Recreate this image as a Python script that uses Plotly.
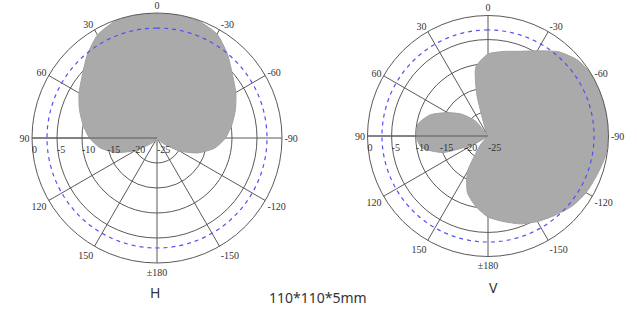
import plotly.graph_objects as go

# ---- data ----
h_theta = [0, 10, 20, 30, 40, 50, 60, 70, 80, 90, 100, 110, 120, 130, 140, 150, 160, 170, 180,
           -170, -160, -150, -140, -130, -120, -110, -100, -90, -80, -70, -60, -50, -40, -30, -20, -10, 0]
h_db = [-0.2, 0, -0.2, -1.2, -3.3, -5.5, -7.0, -8.5, -10.0, -11.5, -13.5, -16.5, -20.0, -23.0, -24.0, -24.5, -24.5, -24.0, -23.5,
        -24.2, -24.5, -24.5, -24.2, -23.0, -19.8, -16.3, -13.3, -11.3, -9.8, -8.3, -6.8, -5.3, -3.1, -1.0, -0.2, 0, -0.2]

v_theta = [0, 10, 15, 20, 30, 40, 50, 60, 70, 80, 90, 100, 110, 120, 130, 140, 150, 160, 170, 180,
           -170, -160, -150, -140, -130, -120, -110, -100, -90, -80, -70, -60, -50, -40, -30, -20, -10, 0]
v_db = [-8.0, -10.5, -16.0, -23.0, -24.5, -21.0, -18.0, -15.3, -12.2, -10.3, -10.1, -11.0, -15.0, -21.5, -24.5, -22.5, -16.5, -12.5, -10.2, -8.2,
        -7.0, -5.6, -4.5, -3.5, -2.3, -1.5, -1.0, -0.3, 0, -0.1, 0, 0, -0.6, -2.2, -4.6, -6.3, -7.2, -8.0]

ref_level = -3
ref_theta = list(range(0, 361, 2))

angle_ticks = [0, 30, 60, 90, 120, 150, 180, 210, 240, 270, 300, 330]
angle_text = ["0", "30", "60", "90", "120", "150", "±180", "-150", "-120", "-90", "-60", "-30"]
radial_ticks = [-25, -20, -15, -10, -5, 0]
radial_text = ["-25", "-20", "-15", "-10", "-5", "0"]

panel_titles = ["H", "V"]
subtitle = "110*110*5mm"

FILL = "rgb(170,170,170)"
GRID = "rgb(90,90,90)"
SERIF = "Liberation Serif"

fig = go.Figure()

for name, th, rr, sub in [("H", h_theta, h_db, "polar"), ("V", v_theta, v_db, "polar2")]:
    fig.add_trace(go.Scatterpolar(theta=th, r=rr, mode="lines", fill="toself",
                                  fillcolor=FILL, line=dict(color="rgb(160,160,160)", width=1, shape="spline", smoothing=0.6),
                                  subplot=sub, showlegend=False, hoverinfo="skip"))
    fig.add_trace(go.Scatterpolar(theta=ref_theta, r=[ref_level] * len(ref_theta), mode="lines",
                                  line=dict(color="rgb(80,80,245)", width=1.2, dash="4px,4px"),
                                  subplot=sub, showlegend=False, hoverinfo="skip"))

def polar_layout(dx, dy):
    return dict(
        domain=dict(x=dx, y=dy),
        bgcolor="white",
        angularaxis=dict(rotation=90, direction="counterclockwise", tickmode="array",
                         tickvals=angle_ticks, ticktext=angle_text, showgrid=True,
                         gridcolor=GRID, gridwidth=1, showline=True, linecolor=GRID, linewidth=1,
                         ticks="", layer="above traces",
                         tickfont=dict(family=SERIF, size=10, color="#333")),
        radialaxis=dict(range=[-25, 0], tickmode="array", tickvals=radial_ticks, ticktext=radial_text,
                        angle=180, tickangle=180, side="counterclockwise", showgrid=True, gridcolor=GRID,
                        gridwidth=1, showline=True, linecolor=GRID, linewidth=1, ticks="",
                        layer="above traces", tickfont=dict(family=SERIF, size=10, color="#333")),
    )

W, Hh = 637, 336
l_cx, l_cy, l_r = 157, 138, 125
r_cx, r_cy, r_r = 488, 136, 120.5

def ann(text, x, y):
    return dict(text=text, x=x / W, y=1 - y / Hh, xref="paper", yref="paper",
                xanchor="center", yanchor="middle", showarrow=False,
                font=dict(family="Noto Sans", size=14, color="#333"))

fig.update_layout(
    width=W, height=Hh, margin=dict(l=0, r=0, t=0, b=0),
    paper_bgcolor="white", plot_bgcolor="white",
    polar=polar_layout([(l_cx - l_r) / W, (l_cx + l_r) / W],
                       [(Hh - l_cy - l_r) / Hh, (Hh - l_cy + l_r) / Hh]),
    polar2=polar_layout([(r_cx - r_r) / W, (r_cx + r_r) / W],
                        [(Hh - r_cy - r_r) / Hh, (Hh - r_cy + r_r) / Hh]),
    annotations=[
        ann(panel_titles[0], 155, 292),
        ann(panel_titles[1], 493, 287),
        ann(subtitle, 318, 297),
    ],
)

fig.write_html("out.html")
